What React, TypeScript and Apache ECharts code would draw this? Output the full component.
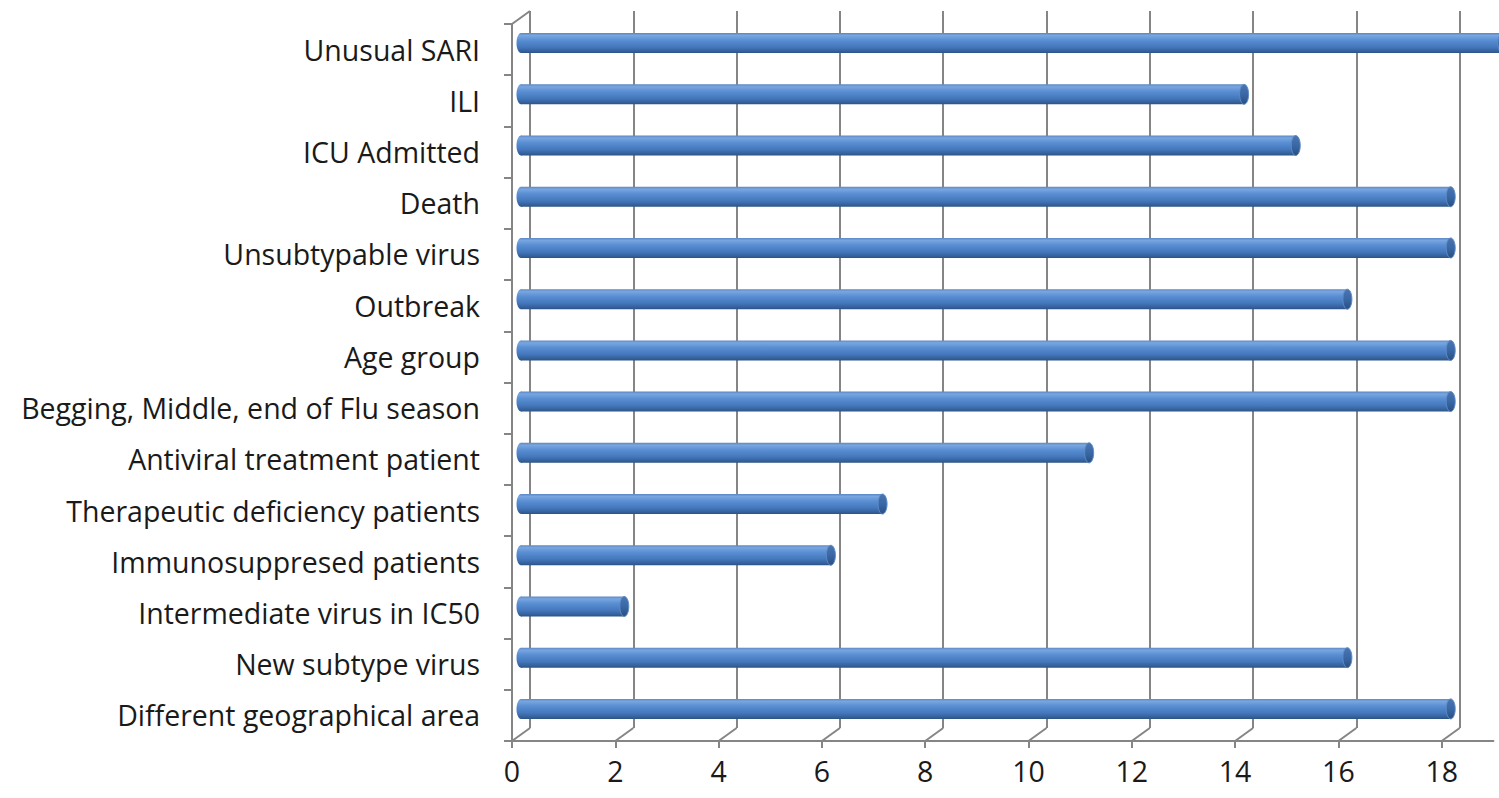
import React, { useEffect, useRef } from "react";
import * as echarts from "echarts";

const categories = [
  "Unusual SARI",
  "ILI",
  "ICU Admitted",
  "Death",
  "Unsubtypable virus",
  "Outbreak",
  "Age group",
  "Begging, Middle, end of Flu season",
  "Antiviral treatment patient",
  "Therapeutic deficiency patients",
  "Immunosuppresed patients",
  "Intermediate virus in IC50",
  "New subtype virus",
  "Different geographical area",
];
const values = [19, 14, 15, 18, 18, 16, 18, 18, 11, 7, 6, 2, 16, 18];
const tickValues = [0, 2, 4, 6, 8, 10, 12, 14, 16, 18];
const axisMax = 19;
const wallMax = 18;

const FONT = "'Open Sans', sans-serif";
const FONT_SIZE = 28.5;
const GRID_COLOR = "#858585";
const DEPTH_X = 18;
const DEPTH_Y = 13;

export default function App() {
  const ref = useRef<HTMLDivElement>(null);
  useEffect(() => {
    if (!ref.current) return;
    const chart = echarts.init(ref.current, null, { renderer: "svg" });
    const unitW = 51.65;
    const bodyGrad = new echarts.graphic.LinearGradient(0, 0, 0, 1, [
      { offset: 0, color: "#5b88c4" },
      { offset: 0.12, color: "#79a6e0" },
      { offset: 0.35, color: "#5a8fd4" },
      { offset: 0.7, color: "#4477bb" },
      { offset: 0.9, color: "#35619c" },
      { offset: 1, color: "#2c5283" },
    ]);
    const capGrad = new echarts.graphic.LinearGradient(0, 0, 0, 1, [
      { offset: 0, color: "#4a75b0" },
      { offset: 0.5, color: "#3a68a6" },
      { offset: 1, color: "#2a4f80" },
    ]);
    const option: any = {
      animation: false,
      backgroundColor: "#ffffff",
      grid: [
        { left: 512, top: 24, width: axisMax * unitW, height: 717, containLabel: false },
        { left: 512 + DEPTH_X, top: 24 - DEPTH_Y, width: wallMax * unitW, height: 717, containLabel: false },
        { left: 512 + DEPTH_X / 2, top: 24 - DEPTH_Y / 2, width: wallMax * unitW, height: 717, containLabel: false },
      ],
      xAxis: [
        {
          gridIndex: 0,
          type: "value",
          min: 0,
          max: axisMax,
          interval: 2,
          axisLine: { show: true, lineStyle: { color: GRID_COLOR, width: 2 } },
          axisTick: {
            show: true,
            length: 7,
            inside: false,
            customValues: tickValues,
            lineStyle: { color: GRID_COLOR, width: 2 },
          },
          axisLabel: {
            show: true,
            customValues: tickValues,
            margin: 15,
            fontFamily: FONT,
            fontSize: FONT_SIZE,
            color: "#1a1a1a",
          },
          splitLine: { show: false },
        },
        {
          gridIndex: 1,
          type: "value",
          min: 0,
          max: wallMax,
          interval: 2,
          axisLine: { show: false },
          axisTick: { show: false },
          axisLabel: { show: false },
          splitLine: { show: true, lineStyle: { color: GRID_COLOR, width: 2 } },
        },
        {
          gridIndex: 2,
          type: "value",
          min: 0,
          max: wallMax,
          show: false,
          splitLine: { show: false },
        },
      ],
      yAxis: [
        {
          gridIndex: 0,
          type: "category",
          data: categories,
          inverse: true,
          axisLine: { show: true, lineStyle: { color: GRID_COLOR, width: 2 } },
          axisTick: { show: true, length: 8, lineStyle: { color: GRID_COLOR, width: 2 } },
          axisLabel: {
            margin: 32,
            fontFamily: FONT,
            fontSize: FONT_SIZE,
            color: "#1a1a1a",
          },
          splitLine: { show: false },
        },
        {
          gridIndex: 1,
          type: "category",
          data: categories,
          inverse: true,
          show: false,
        },
        {
          gridIndex: 2,
          type: "category",
          data: categories,
          inverse: true,
          show: false,
        },
      ],
      series: [
        {
          type: "custom",
          name: "floor",
          xAxisIndex: 0,
          yAxisIndex: 0,
          silent: true,
          data: tickValues.map((v) => [v, categories[0]]),
          renderItem: (params: any, api: any) => {
            const cs = params.coordSys;
            const x = api.coord([api.value(0), 0])[0];
            const bottom = cs.y + cs.height;
            const children: any[] = [
              {
                type: "line",
                shape: { x1: x, y1: bottom, x2: x + DEPTH_X, y2: bottom - DEPTH_Y },
                style: { stroke: GRID_COLOR, lineWidth: 2 },
              },
            ];
            if (params.dataIndex === 0) {
              children.push({
                type: "line",
                shape: { x1: cs.x, y1: cs.y, x2: cs.x + DEPTH_X, y2: cs.y - DEPTH_Y },
                style: { stroke: GRID_COLOR, lineWidth: 2 },
              });
            }
            return { type: "group", children };
          },
          z: 1,
        },
        {
          type: "custom",
          name: "bars",
          xAxisIndex: 2,
          yAxisIndex: 2,
          clip: false,
          data: values.map((v, i) => [v, categories[i]]),
          encode: { x: 0, y: 1 },
          renderItem: (params: any, api: any) => {
            const v = api.value(0);
            const c = api.value(1);
            const s = api.coord([0, c]);
            const e = api.coord([v, c]);
            const h = 20;
            const rx = 4.5;
            return {
              type: "group",
              children: [
                {
                  type: "ellipse",
                  shape: { cx: s[0], cy: s[1], rx, ry: h / 2 },
                  style: { fill: bodyGrad },
                },
                {
                  type: "rect",
                  shape: { x: s[0], y: s[1] - h / 2, width: e[0] - s[0], height: h },
                  style: { fill: bodyGrad },
                },
                {
                  type: "ellipse",
                  shape: { cx: e[0], cy: e[1], rx, ry: h / 2 },
                  style: { fill: capGrad, stroke: "#5d8bc8", lineWidth: 1 },
                },
              ],
            };
          },
          z: 5,
        },
      ],
    };
    chart.setOption(option);
    return () => chart.dispose();
  }, []);
  return (
    <div
      ref={ref}
      style={{ position: "absolute", left: 0, top: 0, width: 1499, height: 798, background: "#fff" }}
    />
  );
}
